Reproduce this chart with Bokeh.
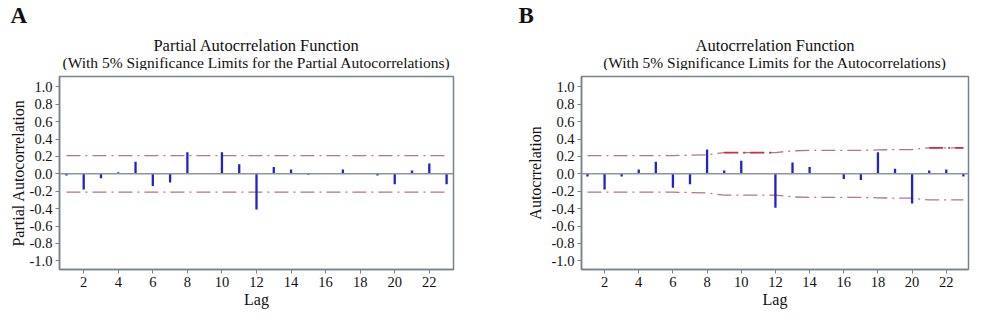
from bokeh.plotting import figure
from bokeh.layouts import row, column
from bokeh.models import FixedTicker, Span, PrintfTickFormatter, Range1d
from bokeh.core.properties import value
from bokeh.embed import file_html
from bokeh.resources import INLINE

# ---- data ----
lags = list(range(1, 24))
pacf = [-0.02, -0.18, -0.05, 0.02, 0.14, -0.14, -0.10, 0.25, 0.01, 0.25, 0.11, -0.41,
        0.08, 0.05, -0.01, 0.00, 0.05, 0.00, -0.02, -0.12, 0.04, 0.12, -0.12]
pacf_limit = [0.21] * 23
acf = [-0.03, -0.18, -0.03, 0.05, 0.14, -0.16, -0.12, 0.28, 0.04, 0.15, 0.00, -0.39,
       0.13, 0.08, 0.01, -0.06, -0.07, 0.25, 0.06, -0.34, 0.04, 0.05, -0.03]
acf_limit = [0.21, 0.21, 0.21, 0.21, 0.21, 0.21, 0.215, 0.22, 0.245, 0.245, 0.245, 0.245,
             0.265, 0.27, 0.27, 0.27, 0.27, 0.275, 0.28, 0.28, 0.30, 0.30, 0.30]
y_ticks = [-1.0, -0.8, -0.6, -0.4, -0.2, 0.0, 0.2, 0.4, 0.6, 0.8, 1.0]
x_ticks = [2, 4, 6, 8, 10, 12, 14, 16, 18, 20, 22]
panel_letters = ["A", "B"]
title_line1 = ["Partial Autocrrelation Function", "Autocrrelation Function"]
title_line2 = ["(With 5% Significance Limits for the Partial Autocorrelations)",
               "(With 5% Significance Limits for the Autocorrelations)"]
y_labels = ["Partial Autocorrelation", "Autocrrelation"]

FONT = "Liberation Serif"
FRAME = "#75848b"
BAR = "#2222cc"
LIM = "#b47684"
LIM_RED = "#c8304a"
STRIP_H = 70

# ---- header strip holding the panel letters and titles (pixel space) ----
strip = figure(width=1000, height=STRIP_H, output_backend="svg", toolbar_location=None,
               x_range=Range1d(0, 1000), y_range=Range1d(STRIP_H, 0),
               x_axis_type=None, y_axis_type=None,
               min_border_left=0, min_border_right=0, min_border_top=0, min_border_bottom=0)
strip.outline_line_color = None
strip.xgrid.visible = False
strip.ygrid.visible = False
letter_x = [10, 518]
frame_mid = [256, 774.5]
strip.text(x=letter_x, y=[15, 15], text=panel_letters, text_font=value(FONT),
           text_font_size="23px", text_font_style="bold", text_color="#111111",
           text_align="left", text_baseline="middle")
strip.text(x=frame_mid, y=[45, 45], text=title_line1, text_font=value(FONT),
           text_font_size="16.5px", text_color="#111111",
           text_align="center", text_baseline="middle")
strip.text(x=frame_mid, y=[62, 62], text=title_line2, text_font=value(FONT),
           text_font_size="15.5px", text_color="#111111",
           text_align="center", text_baseline="middle")


def make_panel(ylabel, vals, limits, bl, br, bt, bb, xr, ylab_standoff, red_spans=()):
    p = figure(width=500, height=323 - STRIP_H, output_backend="svg", toolbar_location=None,
               x_range=Range1d(*xr), y_range=Range1d(-1.10, 1.12),
               min_border_left=bl, min_border_right=br, min_border_top=bt, min_border_bottom=bb)
    p.xgrid.visible = False
    p.ygrid.visible = False
    p.outline_line_color = FRAME
    p.outline_line_width = 1.5
    for ax in (p.xaxis[0], p.yaxis[0]):
        ax.axis_line_color = FRAME
        ax.axis_line_width = 1.5
        ax.major_tick_line_color = FRAME
        ax.major_tick_out = 4
        ax.major_tick_in = 0
        ax.minor_tick_line_color = None
        ax.major_label_text_font = FONT
        ax.major_label_text_font_size = "14.5px"
        ax.major_label_text_color = "#111111"
        ax.axis_label_text_font = FONT
        ax.axis_label_text_font_size = "16px"
        ax.axis_label_text_font_style = "normal"
        ax.axis_label_text_color = "#111111"
    p.xaxis.ticker = FixedTicker(ticks=x_ticks)
    p.yaxis.ticker = FixedTicker(ticks=y_ticks)
    p.yaxis.formatter = PrintfTickFormatter(format="%.1f")
    p.xaxis.axis_label = "Lag"
    p.yaxis.axis_label = ylabel
    p.xaxis.major_label_standoff = 3
    p.xaxis.axis_label_standoff = 1
    p.yaxis.major_label_standoff = 3
    p.yaxis.axis_label_standoff = ylab_standoff

    p.add_layout(Span(location=0, dimension="width", line_color="#8c969b", line_width=1.5))
    lower = [-v for v in limits]
    p.line(lags, limits, line_color=LIM, line_width=1.3, line_dash="14 5 2 5")
    p.line(lags, lower, line_color=LIM, line_width=1.3, line_dash="14 5 2 5")
    for a, b in red_spans:
        p.line(lags[a - 1:b], limits[a - 1:b], line_color=LIM_RED, line_width=1.8,
               line_dash="14 5 2 5")
    p.segment(x0=lags, y0=[0] * len(lags), x1=lags, y1=vals, line_color=BAR, line_width=2.3)
    return p


pa = make_panel(y_labels[0], pacf, pacf_limit, 59, 47, 75 - STRIP_H, 53, (0.6, 23.4), 0)
pb = make_panel(y_labels[1], acf, acf_limit, 81, 32, 76 - STRIP_H, 54, (0.65, 23.3), 5,
                red_spans=[(9, 12), (21, 23)])

layout = column(strip, row(pa, pb))
open("out.html", "w").write(file_html(layout, INLINE))
